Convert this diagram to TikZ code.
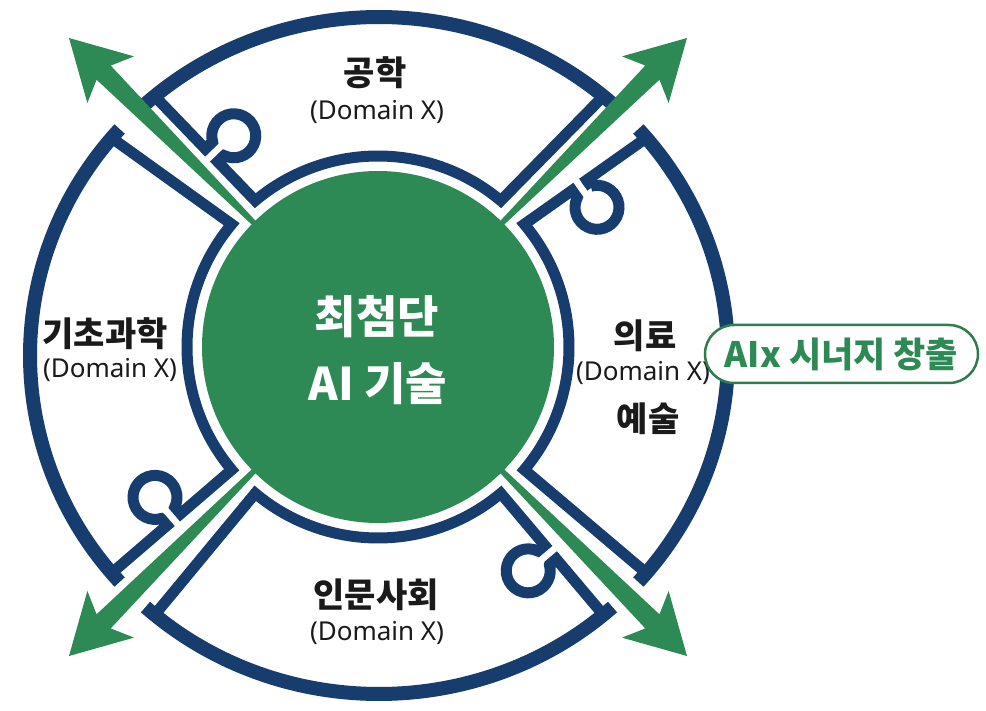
\documentclass[tikz,border=0pt]{standalone}
\usepackage{fontspec}
\newfontfamily\kr{Noto Sans CJK KR}
\newfontfamily\lat{Noto Sans}
\usetikzlibrary{calc}
\definecolor{navy}{HTML}{173D6E}
\definecolor{aigreen}{HTML}{2E8A55}
\definecolor{boxgreen}{HTML}{2F7D4C}
\definecolor{ink}{HTML}{1A1A1A}
\begin{document}
\begin{tikzpicture}[x=1pt,y=1pt,
  outerarc/.style={draw=navy,line width=14pt,line cap=butt},
  edge/.style={draw=navy,line width=11pt,line join=miter,line cap=butt},
  arrowshape/.style={fill=aigreen},
  dom/.style={font=\kr\bfseries\fontsize{34}{38}\selectfont,text=ink,inner sep=0pt},
  sub/.style={font=\lat\fontsize{26}{30}\selectfont,text=ink,inner sep=0pt},
  coretxt/.style={font=\kr\bfseries\fontsize{45}{50}\selectfont,text=white,inner sep=0pt},
  synbox/.style={draw=boxgreen,line width=2.5pt,fill=white,rounded corners=29pt,
    minimum width=273pt,minimum height=58pt,inner sep=0pt,text=aigreen,
    font=\kr\bfseries\fontsize{35}{38}\selectfont}]
\useasboundingbox (0,0) rectangle (986,-711);
\fill[white] (0,0) rectangle (986,-711);
\coordinate (Ci) at (378,-347);
\coordinate (Co) at (379,-355.5);
% puzzle pieces
\foreach \k in {0,1,2,3}{
  \pgfmathsetmacro\aA{50+90*\k}
  \pgfmathsetmacro\aB{130+90*\k}
  \pgfmathsetmacro\aAo{\aA-2}
  \pgfmathsetmacro\aBo{\aB+2}
  \pgfmathsetmacro\ks{\aB+114.2}
  \pgfmathsetmacro\ke{\aB+425.8}
  \draw[outerarc] ($(Co)+(\aAo:349 and 338.5)$) arc[start angle=\aAo,end angle=\aBo,x radius=349,y radius=338.5];
  \coordinate (O1) at ($(Co)+(\aA:349 and 338.5)$);
  \coordinate (O2) at ($(Co)+(\aB:349 and 338.5)$);
  \coordinate (I1) at ($(Ci)+(\aA:191)$);
  \coordinate (I2) at ($(Ci)+(\aB:191)$);
  \coordinate (Kp) at ($(O2)!82pt!(I2)$);
  \coordinate (Nin) at ($(Kp)!9pt!(I2)$);
  \coordinate (Nout) at ($(Kp)!9pt!(O2)$);
  \coordinate (Qin) at ($(Nin)!8.93pt!90:(I2)$);
  \coordinate (Qout) at ($(Nout)!8.93pt!-90:(O2)$);
  \draw[edge] (O1) -- (I1) arc[start angle=\aA,end angle=\aB,radius=191]
     -- (Nin) -- (Qin) arc[start angle=\ks,end angle=\ke,radius=22]
     -- (Qout) -- (Nout) -- (O2);
}
% arrows
\foreach \t in {45,135,225,315}{
  \fill[arrowshape] ($(Ci)+(\t:437)$) -- ($(Ci)+(\t:378)+(\t+90:33)$)
    -- ($(Ci)+(\t:388)+(\t+90:10)$) -- ($(Ci)+(\t:170)+(\t+90:2.5)$)
    -- ($(Ci)+(\t:170)+(\t-90:2.5)$) -- ($(Ci)+(\t:388)+(\t-90:10)$)
    -- ($(Ci)+(\t:378)+(\t-90:33)$) -- cycle;
}
% core
\node[circle,fill=aigreen,minimum size=352pt,inner sep=0pt] (core) at (Ci) {};
\node[coretxt] (core1) at (377,-317) {최첨단};
\node[coretxt] (core2) at (378,-384) {AI 기술};
% labels
\node[dom] (gong) at (375,-73) {공학};
\node[sub] (gongs) at (377,-112) {(Domain X)};
\node[dom] (gicho) at (105,-334) {기초과학};
\node[sub] (gichos) at (110,-370) {(Domain X)};
\node[dom] (uiryo) at (645,-336) {의료};
\node[sub] (uiryos) at (643,-373) {(Domain X)};
\node[dom] (yesul) at (648,-419) {예술};
\node[dom] (inmun) at (376,-595) {인문사회};
\node[sub] (inmuns) at (377,-633) {(Domain X)};
% synergy box
\node[synbox] (syn) at (841.5,-354) {AIx 시너지 창출};
\end{tikzpicture}
\end{document}
